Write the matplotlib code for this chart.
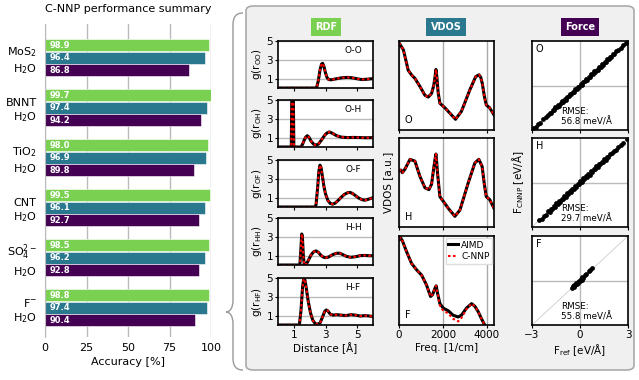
import matplotlib
matplotlib.use("Agg")
import matplotlib.pyplot as plt
from matplotlib.patches import FancyBboxPatch, PathPatch
from matplotlib.path import Path
import numpy as np

# ---- summary bars ----
systems = ["MoS$_2$\nH$_2$O", "BNNT\nH$_2$O", "TiO$_2$\nH$_2$O", "CNT\nH$_2$O",
           "SO$_4^{2-}$\nH$_2$O", "F$^{-}$\nH$_2$O"]
acc_rdf = [98.9, 99.7, 98.0, 99.5, 98.5, 98.8]
acc_vdos = [96.4, 97.4, 96.9, 96.1, 96.2, 97.4]
acc_force = [86.8, 94.2, 89.8, 92.7, 92.8, 90.4]

# ---- RDF curves (r in Angstrom, g(r)) ----
rdf_oo_r = [0, 2.35, 2.45, 2.55, 2.65, 2.75, 2.82, 2.9, 3.0, 3.1, 3.2, 3.35, 3.5, 3.8, 4.1, 4.4, 4.7, 5.0, 5.3, 5.6, 6.0]
rdf_oo_g = [0, 0, 0.1, 0.8, 1.9, 2.55, 2.62, 2.3, 1.6, 1.1, 0.9, 0.87, 0.92, 1.02, 1.1, 1.13, 1.08, 0.98, 0.9, 0.93, 1.0]
rdf_oh_r = [0, 0.84, 0.88, 0.92, 0.96, 1.0, 1.45, 1.55, 1.65, 1.75, 1.85, 1.95, 2.1, 2.25, 2.4, 2.55, 2.75, 2.95, 3.1,
            3.25, 3.45, 3.7, 4.0, 4.4, 4.8, 5.2, 5.6, 6.0]
rdf_oh_g = [0, 0, 7, 12, 7, 0, 0, 0.3, 0.7, 1.05, 1.2, 1.05, 0.6, 0.3, 0.2, 0.3, 0.75, 1.25, 1.5,
            1.6, 1.45, 1.2, 1.05, 1.0, 1.02, 1.0, 0.98, 1.0]
rdf_of_r = [0, 2.3, 2.4, 2.5, 2.58, 2.65, 2.72, 2.8, 2.9, 3.0, 3.15, 3.3, 3.45, 3.6, 3.8, 4.0, 4.2, 4.4, 4.55,
            4.7, 4.9, 5.1, 5.3, 5.5, 5.7, 6.0]
rdf_of_g = [0, 0, 0.2, 2.0, 3.8, 4.45, 4.2, 3.3, 2.2, 1.4, 0.7, 0.38, 0.3, 0.4, 0.7, 1.05, 1.35, 1.52, 1.55,
            1.45, 1.2, 0.95, 0.78, 0.72, 0.82, 1.0]
rdf_hh_r = [0, 1.38, 1.44, 1.5, 1.54, 1.6, 1.66, 1.8, 1.95, 2.1, 2.25, 2.4, 2.55, 2.7, 2.85, 3.0, 3.2, 3.45,
            3.7, 3.9, 4.1, 4.35, 4.6, 4.9, 5.2, 5.5, 5.8, 6.0]
rdf_hh_g = [0, 0, 1.5, 3.3, 3.0, 1.0, 0, 0.1, 0.6, 1.1, 1.4, 1.5, 1.35, 1.05, 0.85, 0.78, 0.85, 1.1,
            1.25, 1.25, 1.1, 0.9, 0.82, 0.88, 1.0, 1.02, 0.98, 1.0]
rdf_hf_r = [0, 1.35, 1.45, 1.55, 1.62, 1.7, 1.78, 1.9, 2.05, 2.2, 2.35, 2.5, 2.65, 2.8, 2.95, 3.05, 3.15, 3.3,
            3.5, 3.7, 4.0, 4.3, 4.6, 4.9, 5.2, 5.5, 5.8, 6.0]
rdf_hf_g = [0, 0, 1.5, 4.0, 4.9, 4.8, 4.0, 2.6, 1.3, 0.5, 0.15, 0.08, 0.2, 0.8, 1.45, 1.6, 1.5, 1.15,
            1.05, 1.1, 1.05, 1.0, 1.1, 1.05, 0.95, 1.0, 0.95, 0.9]
rdf_labels = ["O-O", "O-H", "O-F", "H-H", "H-F"]
rdf_ylabels = ["g(r$_{\\rm OO}$)", "g(r$_{\\rm OH}$)", "g(r$_{\\rm OF}$)", "g(r$_{\\rm HH}$)", "g(r$_{\\rm HF}$)"]

# ---- VDOS curves (freq in 1/cm, a.u.) ----
vdos_o_f = [0, 200, 420, 600, 725, 950, 1180, 1330, 1480, 1580, 1640, 1680, 1720, 1780, 1860, 2085, 2310, 2570,
            2840, 3220, 3490, 3640, 3720, 3790, 3880, 3970, 4120, 4320]
vdos_o_a = [0.98, 0.90, 0.67, 0.61, 0.58, 0.49, 0.39, 0.37, 0.41, 0.50, 0.60, 0.68, 0.60, 0.42, 0.30, 0.25, 0.19, 0.12,
            0.21, 0.45, 0.60, 0.62, 0.59, 0.52, 0.38, 0.28, 0.25, 0.17]
vdos_h_f = [0, 90, 150, 270, 500, 725, 950, 1180, 1360, 1480, 1590, 1650, 1680, 1710, 1750, 1860, 2010, 2240,
            2540, 2770, 3140, 3450, 3630, 3780, 3880, 3970, 4120, 4320]
vdos_h_a = [0.63, 0.64, 0.61, 0.65, 0.76, 0.74, 0.57, 0.44, 0.42, 0.48, 0.68, 0.78, 0.82, 0.74, 0.61, 0.34, 0.29, 0.21,
            0.12, 0.19, 0.49, 0.72, 0.76, 0.68, 0.48, 0.34, 0.31, 0.21]
vdos_f_f = [0, 75, 165, 350, 575, 800, 1030, 1250, 1435, 1525, 1630, 1690, 1750, 1860, 2010, 2240, 2460, 2690,
            2840, 3070, 3300, 3450, 3600, 3750, 3900, 4000]
vdos_f_aimd = [0.96, 0.98, 0.94, 0.82, 0.69, 0.62, 0.56, 0.45, 0.32, 0.34, 0.41, 0.44, 0.36, 0.24, 0.19, 0.16, 0.11,
               0.09, 0.11, 0.19, 0.24, 0.21, 0.15, 0.07, 0.0, -0.05]
vdos_f_cnnp = [0.96, 0.98, 0.94, 0.82, 0.69, 0.62, 0.56, 0.45, 0.32, 0.34, 0.41, 0.44, 0.36, 0.22, 0.16, 0.13, 0.07,
               0.04, 0.08, 0.18, 0.24, 0.21, 0.15, 0.07, 0.0, -0.05]
vdos_labels = ["O", "H", "F"]

# ---- force parity (reference vs C-NNP, eV/A) ----
force_o_ref = [-2.92, -2.78, -2.62, -2.5, -2.3, -2.12, -1.98, -1.9, -1.8, -1.7, -1.62, -1.55, -1.45, -1.38, -1.3,
               -1.2, -1.12, -1.05, -0.95, -0.88, -0.8, -0.7, -0.62, -0.55, -0.45, -0.38, -0.3, -0.2, -0.12, -0.05,
               0.05, 0.12, 0.2, 0.3, 0.38, 0.45, 0.55, 0.62, 0.7, 0.8, 0.88, 0.95, 1.05, 1.12, 1.2, 1.3, 1.38,
               1.45, 1.55, 1.62, 1.7, 1.8, 1.88, 1.95, 2.05, 2.15, 2.25, 2.4, 2.55, 2.7, 2.85]
force_o_cnnp = [-2.88, -2.80, -2.58, -2.52, -2.26, -2.10, -2.00, -1.84, -1.85, -1.67, -1.66, -1.48, -1.48, -1.33,
                -1.36, -1.18, -1.06, -1.09, -0.92, -0.95, -0.75, -0.72, -0.56, -0.60, -0.41, -0.41, -0.23, -0.26,
                -0.09, -0.09, 0.10, 0.05, 0.24, 0.28, 0.44, 0.40, 0.58, 0.56, 0.75, 0.77, 0.95, 0.91, 1.07, 1.06,
                1.25, 1.27, 1.44, 1.40, 1.59, 1.60, 1.76, 1.76, 1.91, 1.90, 2.09, 2.12, 2.30, 2.42, 2.50, 2.72, 2.88]
force_h_ref = [-2.55, -2.4, -2.28, -2.15, -2.0, -1.9, -1.82, -1.72, -1.65, -1.55, -1.48, -1.4, -1.3, -1.22, -1.15,
               -1.05, -0.98, -0.9, -0.8, -0.72, -0.65, -0.55, -0.48, -0.4, -0.3, -0.22, -0.15, -0.05, 0.02, 0.1,
               0.2, 0.28, 0.35, 0.45, 0.52, 0.6, 0.7, 0.78, 0.85, 0.95, 1.02, 1.1, 1.2, 1.28, 1.35, 1.45, 1.52,
               1.6, 1.7, 1.78, 1.88, 2.0, 2.12, 2.25, 2.4, 2.55, 2.7, 2.95]
force_h_cnnp = [-2.53, -2.44, -2.24, -2.18, -1.95, -1.96, -1.76, -1.79, -1.58, -1.62, -1.41, -1.47, -1.23, -1.29,
                -1.08, -1.12, -0.91, -0.97, -0.73, -0.79, -0.58, -0.62, -0.41, -0.47, -0.23, -0.29, -0.08, -0.12,
                0.09, 0.03, 0.27, 0.21, 0.42, 0.38, 0.59, 0.53, 0.77, 0.71, 0.92, 0.88, 1.09, 1.03, 1.26, 1.22,
                1.41, 1.39, 1.57, 1.55, 1.74, 1.74, 1.91, 1.97, 2.15, 2.22, 2.38, 2.52, 2.68, 2.95]
force_f_ref = [-0.5, -0.45, -0.4, -0.35, -0.3, -0.25, -0.2, -0.15, -0.1, -0.05, 0.0, 0.05, 0.1, 0.15, 0.2, 0.3,
               0.4, 0.55, 0.65, 0.75]
force_f_cnnp = [-0.52, -0.4, -0.44, -0.3, -0.33, -0.2, -0.24, -0.1, -0.14, 0.0, -0.03, 0.1, 0.06, 0.22, 0.18, 0.35,
                0.45, 0.62, 0.72, 0.84]
force_rmse = ["56.8", "29.7", "55.8"]

C_RDF = "#7ad151"
C_VDOS = "#2a788e"
C_FORCE = "#440154"
GRID = "#bbbbbb"

W, H = 639, 380
fig = plt.figure(figsize=(W / 100, H / 100), dpi=100)
plt.rcParams['font.family'] = 'DejaVu Sans'


def px(l, t, r, b):
    return [l / W, 1 - b / H, (r - l) / W, (b - t) / H]


def frame(ax):
    for s in ax.spines.values():
        s.set_linewidth(1.2)
        s.set_color("black")
    ax.tick_params(labelsize=7.5, length=2, width=0.8, pad=1.5)


# ---------------- summary bar chart ----------------
ax = fig.add_axes(px(45, 24, 211, 337))
y = np.arange(len(systems))
h = 0.24
ax.barh(y - 0.25, acc_rdf, height=h, color=C_RDF, edgecolor="white", linewidth=0.4)
ax.barh(y, acc_vdos, height=h, color=C_VDOS, edgecolor="white", linewidth=0.4)
ax.barh(y + 0.25, acc_force, height=h, color=C_FORCE, edgecolor="white", linewidth=0.4)
for i in range(len(systems)):
    for off, v in zip([-0.25, 0, 0.25], [acc_rdf[i], acc_vdos[i], acc_force[i]]):
        ax.text(2.5, i + off, f"{v:.1f}", color="white", fontsize=6, fontweight="bold", va="center", ha="left")
ax.set_xlim(0, 100)
ax.set_ylim(5.59, -0.67)
ax.set_yticks(y)
ax.set_yticklabels(systems, fontsize=8, ha="right", linespacing=1.3)
ax.set_xticks([0, 25, 50, 75, 100])
ax.tick_params(axis="both", length=0, labelsize=8, pad=4)
ax.tick_params(axis="y", pad=6)
ax.set_axisbelow(True)
ax.grid(axis="x", color=GRID, linewidth=1)
for s in ["top", "right", "bottom"]:
    ax.spines[s].set_visible(False)
ax.spines["left"].set_color(GRID)
ax.set_xlabel("Accuracy [%]", fontsize=8, labelpad=3)
ax.set_title("C-NNP performance summary", fontsize=8, pad=9)

# ---------------- panel box and brace ----------------
panel = FancyBboxPatch((246 / W, 1 - 370 / H), (634 - 246) / W, (370 - 6) / H,
                       boxstyle="round,pad=0,rounding_size=0.012", transform=fig.transFigure,
                       facecolor="#f0f0f0", edgecolor="#aaaaaa", linewidth=1.2, zorder=-1)
fig.add_artist(panel)

brace_px = [(243, 13), (236, 13), (233, 17), (233, 25), (233, 300), (233, 308), (230, 312), (226, 312),
            (230, 312), (233, 316), (233, 324), (233, 358), (233, 366), (236, 370), (243, 370)]
codes = [Path.MOVETO, Path.CURVE4, Path.CURVE4, Path.CURVE4, Path.LINETO, Path.CURVE4, Path.CURVE4, Path.CURVE4,
         Path.CURVE4, Path.CURVE4, Path.CURVE4, Path.LINETO, Path.CURVE4, Path.CURVE4, Path.CURVE4]
brace = Path([(x / W, 1 - yy / H) for x, yy in brace_px], codes)
fig.add_artist(PathPatch(brace, transform=fig.transFigure, facecolor="none", edgecolor="#999999", linewidth=1))

# column headers
for xc, txt, col in [(326, "RDF", C_RDF), (446, "VDOS", C_VDOS), (580, "Force", C_FORCE)]:
    fig.text(xc / W, 1 - 27 / H, txt, color="white", fontsize=7, fontweight="bold", ha="center", va="center",
             bbox=dict(boxstyle="square,pad=0.45", facecolor=col, edgecolor="none"))

# ---------------- RDF column ----------------
rdf_r = [rdf_oo_r, rdf_oh_r, rdf_of_r, rdf_hh_r, rdf_hf_r]
rdf_g = [rdf_oo_g, rdf_oh_g, rdf_of_g, rdf_hh_g, rdf_hf_g]
for k, top in enumerate([41, 100, 160, 218, 278]):
    a = fig.add_axes(px(278, top, 373, top + 47))
    a.plot(rdf_r[k], rdf_g[k], color="black", linewidth=2.2)
    a.plot(rdf_r[k], rdf_g[k], color="red", linewidth=1.5, linestyle=(0, (1.2, 1.2)))
    a.set_xlim(0, 6)
    a.set_ylim(0, 5)
    a.set_yticks([1, 3, 5])
    a.set_xticks([1, 3, 5])
    a.set_axisbelow(True)
    a.grid(axis="y", color=GRID, linewidth=1)
    a.text(0.79, 0.9, rdf_labels[k], transform=a.transAxes, fontsize=6.5, ha="center", va="top")
    a.set_ylabel(rdf_ylabels[k], fontsize=7.5, labelpad=2)
    frame(a)
    if k < 4:
        a.set_xticklabels([])
    else:
        a.set_xlabel("Distance [Å]", fontsize=7.5, labelpad=2)

# ---------------- VDOS column ----------------
vd_f = [vdos_o_f, vdos_h_f, vdos_f_f]
vd_a = [vdos_o_a, vdos_h_a, vdos_f_aimd]
vd_c = [vdos_o_a, vdos_h_a, vdos_f_cnnp]
for k, top in enumerate([41, 138, 236]):
    a = fig.add_axes(px(399, top, 494, top + 89))
    a.plot(vd_f[k], vd_a[k], color="black", linewidth=2.2, label="AIMD")
    a.plot(vd_f[k], vd_c[k], color="red", linewidth=1.5, linestyle=(0, (1.2, 1.2)), label="C-NNP")
    a.set_xlim(0, 4320)
    a.set_ylim(0, 1.0)
    a.set_yticks([])
    a.set_xticks([0, 2000, 4000])
    a.set_axisbelow(True)
    a.grid(axis="x", color="#aaaaaa", linewidth=1)
    a.text(0.06, 0.06, vdos_labels[k], transform=a.transAxes, fontsize=7, ha="left", va="bottom")
    frame(a)
    if k == 1:
        a.set_ylabel("VDOS [a.u.]", fontsize=7.5, labelpad=4)
    if k < 2:
        a.set_xticklabels([])
    else:
        a.set_xlabel("Freq. [1/cm]", fontsize=7.5, labelpad=2)
        a.legend(loc="upper right", fontsize=6.5, handlelength=1.0, handletextpad=0.4, borderpad=0.3,
                 labelspacing=0.3, framealpha=1, edgecolor="#dddddd", fancybox=False, borderaxespad=0.2)

# ---------------- Force column ----------------
fr = [force_o_ref, force_h_ref, force_f_ref]
fc = [force_o_cnnp, force_h_cnnp, force_f_cnnp]
for k, top in enumerate([41, 138, 236]):
    a = fig.add_axes(px(532, top, 628, top + 89))
    a.plot([-3, 3], [-3, 3], color="#cccccc", linewidth=0.6, zorder=1)
    a.axhline(0, color=GRID, linewidth=1, zorder=0)
    a.axvline(0, color=GRID, linewidth=1, zorder=0)
    a.scatter(fr[k], fc[k], s=12, color="black", linewidths=0, zorder=3)
    a.set_xlim(-3, 3)
    a.set_ylim(-3, 3)
    a.set_yticks([])
    a.set_xticks([-3, 0, 3])
    a.text(0.04, 0.97, vdos_labels[k], transform=a.transAxes, fontsize=7, ha="left", va="top")
    a.text(0.3, 0.04, f"RMSE:\n{force_rmse[k]} meV/Å", transform=a.transAxes, fontsize=6.3, ha="left",
           va="bottom", linespacing=1.1)
    frame(a)
    if k == 1:
        a.set_ylabel("F$_{\\rm CNNP}$ [eV/Å]", fontsize=7.5, labelpad=4)
    if k < 2:
        a.set_xticklabels([])
    else:
        a.set_xlabel("F$_{\\rm ref}$ [eV/Å]", fontsize=7.5, labelpad=2)

fig.savefig("out.png", dpi=100)
